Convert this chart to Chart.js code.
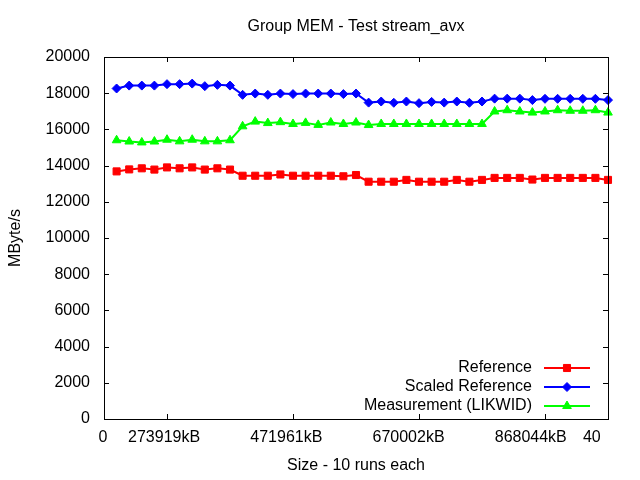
<!DOCTYPE html>
<html><head><meta charset="utf-8">
<script src="https://cdn.jsdelivr.net/npm/chart.js@4/dist/chart.umd.min.js"></script>
<style>html,body{margin:0;padding:0;background:#fff}#wrap{width:640px;height:480px}</style>
</head><body><div id="wrap"><canvas id="c" width="640" height="480"></canvas></div>
<script>
const chartTitle = 'Group MEM - Test stream_avx';
const xTitle = 'Size - 10 runs each';
const yTitle = 'MByte/s';
const seriesNames = ['Reference', 'Scaled Reference', 'Measurement (LIKWID)'];
const runIndex = [1,2,3,4,5,6,7,8,9,10,11,12,13,14,15,16,17,18,19,20,21,22,23,24,25,26,27,28,29,30,31,32,33,34,35,36,37,38,39,40];
const reference = [13680,13790,13850,13780,13900,13850,13900,13780,13850,13780,
                   13440,13440,13440,13510,13440,13440,13440,13440,13410,13480,
                   13110,13110,13110,13210,13110,13110,13110,13210,13110,13210,
                   13320,13320,13320,13230,13320,13320,13320,13320,13320,13210];
const scaledReference = [18260,18420,18420,18420,18500,18500,18530,18390,18460,18420,
                         17910,17980,17910,17980,17950,17980,17980,17980,17950,17980,
                         17480,17540,17470,17540,17450,17520,17480,17540,17470,17540,
                         17700,17700,17700,17620,17690,17690,17690,17690,17690,17620];
const measurement = [15400,15330,15280,15330,15430,15340,15430,15340,15340,15400,
                     16170,16430,16350,16400,16300,16360,16250,16380,16300,16380,
                     16240,16300,16300,16300,16300,16300,16300,16300,16300,16300,
                     16990,17060,16990,16930,16990,17060,17030,17030,17060,16930];
const xTickValues = [0, 5, 15, 25, 35, 40];
const xTickLabels = ['0', '273919kB', '471961kB', '670002kB', '868044kB', '40'];
const yTickValues = [0,2000,4000,6000,8000,10000,12000,14000,16000,18000,20000];

const FONT = {family: '"Liberation Sans", Arial, sans-serif', size: 16};
const labelShrink = 0.97, labelShift = -0.08;

function pts(arr){ return arr.map((v,i)=>({x: runIndex[i], y: v})); }

const framePlugin = {
  id: 'frame',
  afterDraw(chart){
    const {ctx, chartArea: a, scales} = chart;
    ctx.save();
    ctx.strokeStyle = '#000'; ctx.lineWidth = 1;
    ctx.strokeRect(Math.round(a.left)+0.5, Math.round(a.top)+0.5, Math.round(a.right-a.left), Math.round(a.bottom-a.top));
    const tl = 5;
    ctx.beginPath();
    xTickValues.forEach(v=>{
      const x = Math.round(scales.x.getPixelForValue(v))+0.5;
      ctx.moveTo(x, a.bottom); ctx.lineTo(x, a.bottom - tl);
      ctx.moveTo(x, a.top); ctx.lineTo(x, a.top + tl);
    });
    yTickValues.forEach(v=>{
      const y = Math.round(scales.y.getPixelForValue(v))+0.5;
      ctx.moveTo(a.left, y); ctx.lineTo(a.left + tl, y);
      ctx.moveTo(a.right, y); ctx.lineTo(a.right - tl, y);
    });
    ctx.stroke();
    // title
    ctx.fillStyle = '#000';
    ctx.font = '16px "Liberation Sans", Arial, sans-serif';
    ctx.textAlign = 'center'; ctx.textBaseline = 'middle';
    ctx.fillText(chartTitle, (a.left + a.right)/2, 27);
    // legend
    const rows = [-51, -32, -13];
    chart.data.datasets.forEach((ds, i)=>{
      const y = a.bottom + rows[i];
      ctx.textAlign = 'right';
      ctx.fillStyle = '#000';
      ctx.fillText(ds.label, a.right - 76, y);
      ctx.strokeStyle = ds.borderColor; ctx.lineWidth = 2;
      ctx.beginPath(); ctx.moveTo(a.right - 64, y); ctx.lineTo(a.right - 18, y); ctx.stroke();
      ctx.fillStyle = ds.pointBackgroundColor;
      ctx.lineWidth = 1;
      Chart.helpers.drawPoint(ctx, {pointStyle: ds.pointStyle, radius: ds.pointRadius, rotation: 0, borderWidth: 1}, a.right - 41, y);
    });
    ctx.restore();
  }
};

function mk(label, data, color, style, r){
  return {label, data: pts(data), borderColor: color, backgroundColor: color,
    pointBackgroundColor: color, pointBorderColor: color, pointStyle: style,
    pointRadius: r, pointBorderWidth: 1, borderWidth: 2, tension: 0, clip: false};
}

new Chart(document.getElementById('c'), {
  type: 'line',
  data: {datasets: [
    mk(seriesNames[0], reference, '#ff0000', 'rect', 5),
    mk(seriesNames[1], scaledReference, '#0000ff', 'rectRot', 4.5),
    mk(seriesNames[2], measurement, '#00ff00', 'triangle', 5)
  ]},
  options: {
    responsive: false, animation: false, devicePixelRatio: 1,
    layout: {padding: {top: 57, right: 32, left: 0, bottom: 0}},
    plugins: {legend: {display: false}, title: {display: false}, tooltip: {enabled: false}},
    scales: {
      x: {type: 'linear', min: 0, max: 40,
        grid: {display: false, drawTicks: false}, border: {display: false},
        afterBuildTicks(s){ s.ticks = xTickValues.map(v=>({value: v*labelShrink + labelShift})); },
        afterFit(s){ s.height = 61; },
        ticks: {font: FONT, color: '#000', padding: 9, maxRotation: 0, autoSkip: false,
          callback: (v, i) => xTickLabels[i]},
        title: {display: true, text: xTitle, font: FONT, color: '#000', padding: {top: 0, bottom: 5}}
      },
      y: {min: 0, max: 20000,
        grid: {display: false, drawTicks: false}, border: {display: false},
        afterBuildTicks(s){ s.ticks = yTickValues.map(v=>({value: v})); },
        afterFit(s){ s.width = 104; },
        ticks: {font: FONT, color: '#000', padding: 14, callback: v => String(v)},
        title: {display: true, text: yTitle, font: FONT, color: '#000', padding: {top: 6, bottom: 0}}
      }
    }
  },
  plugins: [framePlugin]
});
</script></body></html>
